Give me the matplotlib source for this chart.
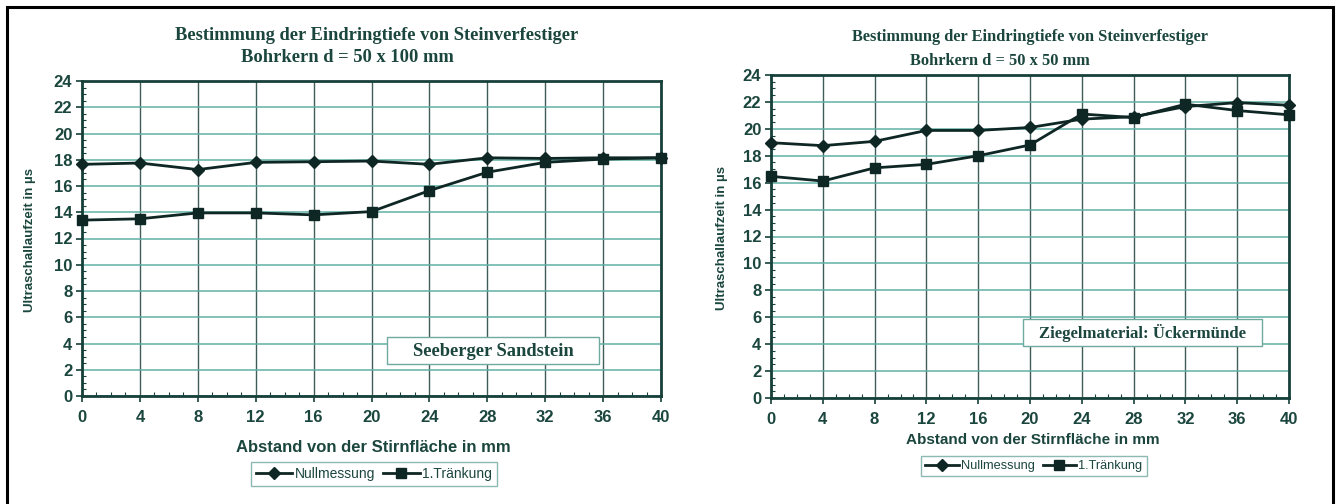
import matplotlib
matplotlib.use("Agg")
import matplotlib.pyplot as plt
from matplotlib.ticker import MultipleLocator
from matplotlib.patches import Rectangle

# ---- data ----
x_mm = [0, 4, 8, 12, 16, 20, 24, 28, 32, 36, 40]

left_null = [17.65, 17.75, 17.25, 17.8, 17.85, 17.9, 17.65, 18.15, 18.1, 18.15, 18.15]
left_traenk = [13.4, 13.5, 13.95, 13.95, 13.8, 14.05, 15.65, 17.05, 17.8, 18.05, 18.15]

right_null = [18.97, 18.75, 19.07, 19.88, 19.88, 20.1, 20.72, 20.9, 21.65, 21.95, 21.75]
right_traenk = [16.47, 16.12, 17.1, 17.36, 18.0, 18.8, 21.1, 20.84, 21.83, 21.36, 21.04]

series_names = ["Nullmessung", "1.Tränkung"]
title_line1 = "Bestimmung der Eindringtiefe von Steinverfestiger"
left_title2 = "Bohrkern d = 50 x 100 mm"
right_title2 = "Bohrkern d = 50 x 50 mm"
xlabel = "Abstand von der Stirnfläche in mm"
ylabel = "Ultraschallaufzeit in µs"
left_note = "Seeberger Sandstein"
right_note = "Ziegelmaterial: Ückermünde"

W, H = 1338, 504
TXT = "#1b463e"
LINE = "#0f2724"
HGRID = "#5fb0a6"
VGRID = "#3f5c57"
SPINE = "#17403a"
BOXEC = "#6fa9a0"

fig = plt.figure(figsize=(W / 100, H / 100), dpi=100)
fig.patch.set_facecolor("white")


def fx(px):
    return px / W


def fy(py):
    return 1 - py / H


def make_panel(rect, null, traenk):
    ax = fig.add_axes(rect)
    ax.plot(x_mm, null, color=LINE, lw=2.0, marker="D", ms=6,
            mfc=LINE, mec=LINE, label=series_names[0], zorder=4, clip_on=False)
    ax.plot(x_mm, traenk, color=LINE, lw=2.0, marker="s", ms=7.5,
            mfc=LINE, mec=LINE, label=series_names[1], zorder=4, clip_on=False)
    ax.set_xlim(0, 40)
    ax.set_ylim(0, 24)
    ax.xaxis.set_major_locator(MultipleLocator(4))
    ax.yaxis.set_major_locator(MultipleLocator(2))
    ax.xaxis.set_minor_locator(MultipleLocator(1))
    ax.yaxis.set_minor_locator(MultipleLocator(0.5))
    ax.yaxis.grid(True, which="major", color=HGRID, lw=1.1)
    ax.xaxis.grid(True, which="major", color=VGRID, lw=1.0)
    ax.set_axisbelow(True)
    for s in ax.spines.values():
        s.set_color(SPINE)
        s.set_linewidth(2.0)
    ax.tick_params(which="major", direction="out", length=4, width=1.2,
                   color=SPINE, labelcolor=TXT, labelsize=12, pad=3)
    ax.tick_params(which="minor", direction="in", length=3, width=0.8,
                   color=SPINE)
    ax.tick_params(axis="x", which="major", pad=6)
    for lab in ax.get_xticklabels() + ax.get_yticklabels():
        lab.set_fontfamily("Liberation Sans")
        lab.set_fontweight("bold")
    return ax


# ---- left panel ----
axL = make_panel([fx(82), fy(396), fx(661) - fx(82), fy(81) - fy(396)],
                 left_null, left_traenk)
# ---- right panel ----
axR = make_panel([fx(771), fy(398), fx(1289) - fx(771), fy(75) - fy(398)],
                 right_null, right_traenk)

serif = dict(family="Liberation Serif", weight="bold", color=TXT)
sans_b = dict(family="Liberation Sans", weight="bold", color=TXT)

# titles
fig.text(fx(377), fy(35), title_line1, ha="center", va="center", fontsize=13.3, **serif)
fig.text(fx(347), fy(57), left_title2, ha="center", va="center", fontsize=13.3, **serif)
fig.text(fx(1030), fy(37), title_line1, ha="center", va="center", fontsize=11.8, **serif)
fig.text(fx(1000), fy(61), right_title2, ha="center", va="center", fontsize=11.8, **serif)

# axis labels
fig.text(fx(373), fy(447), xlabel, ha="center", va="center", fontsize=12, **sans_b)
fig.text(fx(1033), fy(440), xlabel, ha="center", va="center", fontsize=11, **sans_b)
fig.text(fx(30), fy(240), ylabel, ha="center", va="center", rotation=90, fontsize=9.5, **sans_b)
fig.text(fx(722), fy(238), ylabel, ha="center", va="center", rotation=90, fontsize=9.5, **sans_b)

# annotation boxes
for (x0, y0, x1, y1), txt, fs in [((387, 337, 599, 364), left_note, 13.3),
                                  ((1023, 319, 1262, 346), right_note, 12.1)]:
    fig.patches.append(Rectangle((fx(x0), fy(y1)), fx(x1) - fx(x0), fy(y0) - fy(y1),
                                 transform=fig.transFigure, fc="white", ec=BOXEC,
                                 lw=1.0, zorder=5))
    fig.text(fx((x0 + x1) / 2), fy((y0 + y1) / 2 + 1), txt, ha="center", va="center",
             fontsize=fs, zorder=6, **serif)

# legends
for ax, cx, cy, fs in [(axL, 374, 474, 10), (axR, 1034, 466, 9.2)]:
    leg = fig.legend(*ax.get_legend_handles_labels(), loc="center",
                     bbox_to_anchor=(fx(cx), fy(cy)), ncol=2, frameon=True,
                     fancybox=False, edgecolor=BOXEC,
                     handlelength=2.6, handletextpad=0.2, columnspacing=0.6,
                     borderpad=0.35, prop={"family": "Liberation Sans", "size": fs})
    leg.get_frame().set_linewidth(1.0)
    for t in leg.get_texts():
        t.set_color(TXT)

# outer frame
fig.patches.append(Rectangle((fx(7), -0.05), fx(1333) - fx(7), fy(7) + 0.05,
                             transform=fig.transFigure, fill=False,
                             ec="black", lw=2.2, zorder=10))

fig.savefig("out.png", dpi=100, facecolor="white")
